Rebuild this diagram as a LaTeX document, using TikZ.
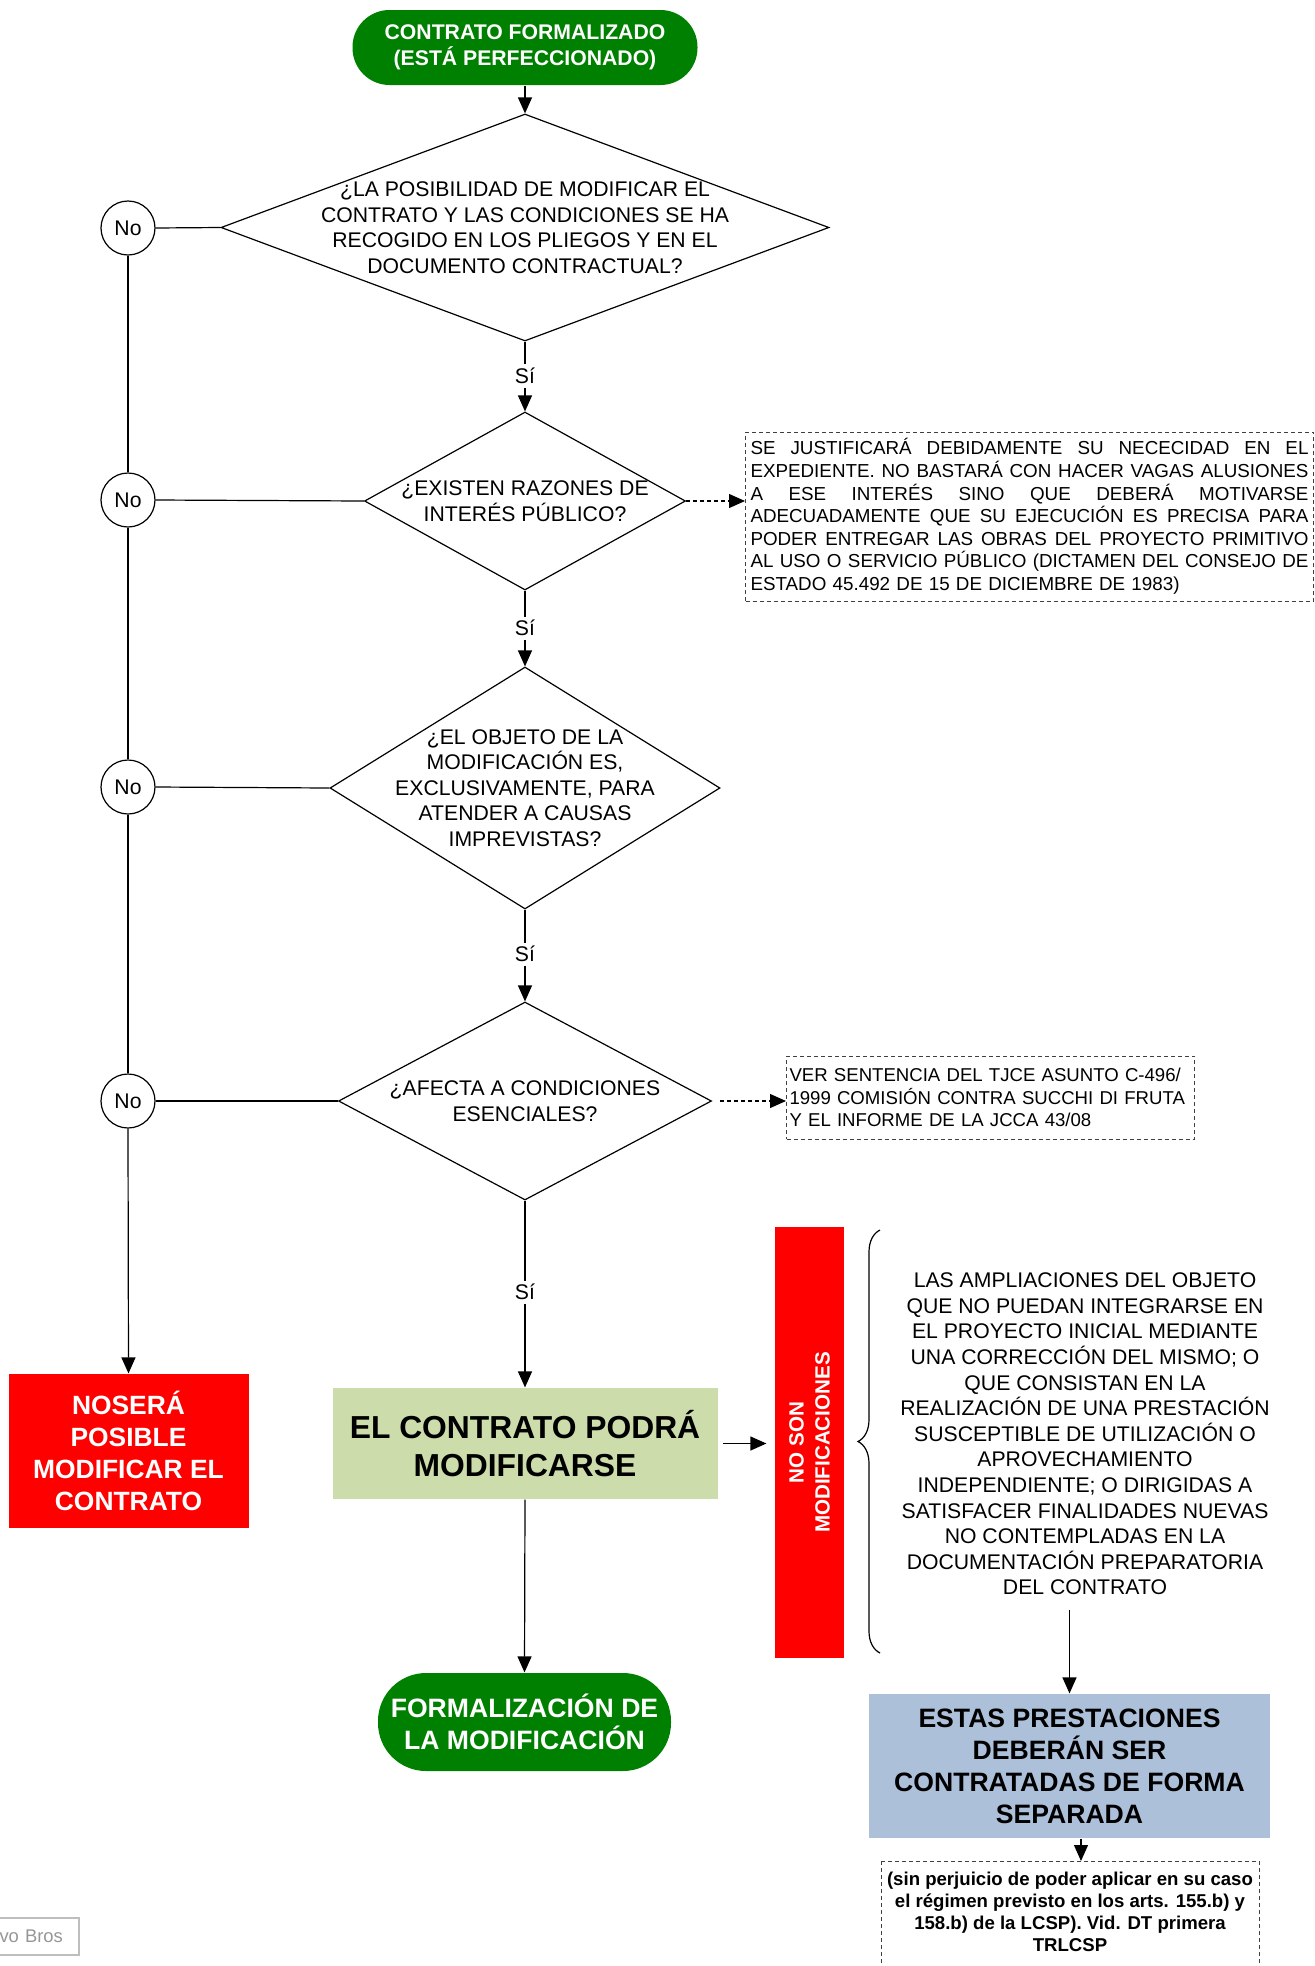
\documentclass[tikz,border=0pt]{standalone}
\usepackage{fontspec}
\setmainfont{Liberation Sans}
\usetikzlibrary{shapes.geometric,arrows.meta,decorations.pathreplacing,calc}
\definecolor{tgreen}{RGB}{0,128,0}
\definecolor{tred}{RGB}{255,0,0}
\definecolor{lgreen}{RGB}{204,220,170}
\definecolor{lblue}{RGB}{173,192,218}
\definecolor{wmgray}{RGB}{150,150,150}
\definecolor{wmline}{RGB}{190,190,190}
\newcommand{\jline}[1]{\makebox[279pt][s]{\spaceskip=0.28em plus 3em\relax #1}}
\begin{document}
\begin{tikzpicture}[x=0.5pt,y=-0.5pt,
  line width=0.6pt,
  arr/.style={-{Triangle[length=8pt,width=7pt]}},
  dia/.style={draw, shape=diamond, inner sep=0pt},
  dtext/.style={align=center, font=\fontsize{10.6}{12.8}\selectfont, inner sep=0pt},
  nocirc/.style={draw, circle, minimum size=27pt, inner sep=0pt, fill=white, font=\fontsize{10.6}{12.8}\selectfont},
  silabel/.style={fill=white, inner sep=1.5pt, font=\fontsize{10.6}{12.8}\selectfont},
  term/.style={fill=tgreen, text=white, align=center, inner sep=0pt},
  dbox/.style={draw=black!75, dash pattern=on 2pt off 1.5pt, line width=0.5pt},
  small/.style={font=\fontsize{9.4}{11.3}\selectfont}
]
\useasboundingbox (0,0) rectangle (1315,1966);

% top terminal
\node[term, rounded corners=18.5pt, minimum width=172.5pt, minimum height=37.5pt,
  font=\fontsize{10.6}{13}\selectfont\bfseries] (t1) at (525,47.5)
  {CONTRATO FORMALIZADO\\(ESTÁ PERFECCIONADO)};

% diamonds
\node[dia, minimum width=304pt, minimum height=113.5pt] (d1) at (525,227.5) {};
\node[dtext] at (d1.center) {¿LA POSIBILIDAD DE MODIFICAR EL\\CONTRATO Y LAS CONDICIONES SE HA\\RECOGIDO EN LOS PLIEGOS Y EN EL\\DOCUMENTO CONTRACTUAL?};

\node[dia, minimum width=160.5pt, minimum height=89pt] (d2) at (525,501) {};
\node[dtext] at (d2.center) {¿EXISTEN RAZONES DE\\INTERÉS PÚBLICO?};

\node[dia, minimum width=195pt, minimum height=121pt] (d3) at (525,788) {};
\node[dtext] at (d3.center) {¿EL OBJETO DE LA\\MODIFICACIÓN ES,\\EXCLUSIVAMENTE, PARA\\ATENDER A CAUSAS\\IMPREVISTAS?};

\node[dia, minimum width=186.5pt, minimum height=99pt] (d4) at (525,1101) {};
\node[dtext] at (d4.center) {¿AFECTA A CONDICIONES\\ESENCIALES?};

% Sí labels
\node[silabel] (si1) at (525,376) {Sí};
\node[silabel] (si2) at (525,628) {Sí};
\node[silabel] (si3) at (525,954) {Sí};
\node[silabel] (si4) at (525,1292) {Sí};

% No circles
\node[nocirc] (no1) at (128,228) {No};
\node[nocirc] (no2) at (128,500) {No};
\node[nocirc] (no3) at (128,787) {No};
\node[nocirc] (no4) at (128,1101) {No};

% red box left
\node[fill=tred, text=white, align=center, minimum width=120pt, minimum height=77pt,
  inner sep=0pt, font=\fontsize{13.2}{16}\selectfont\bfseries] (nos) at (128.5,1451)
  {NOSERÁ\\POSIBLE\\MODIFICAR EL\\CONTRATO};

% green box
\node[fill=lgreen, align=center, minimum width=192.5pt, minimum height=55.5pt,
  inner sep=0pt, font=\fontsize{15.9}{18.8}\selectfont\bfseries] (g) at (525,1443.5)
  {EL CONTRATO PODRÁ\\MODIFICARSE};

% final terminal
\node[term, rounded corners=24pt, minimum width=146.5pt, minimum height=49pt,
  font=\fontsize{13.3}{15.7}\selectfont\bfseries] (t2) at (524.5,1722)
  {FORMALIZACIÓN DE\\LA MODIFICACIÓN};

% vertical red box
\node[fill=tred, minimum width=34.5pt, minimum height=215.5pt, inner sep=0pt] (nsm) at (809.5,1442.5) {};
\node[rotate=90, text=white, align=center, inner sep=0pt,
  font=\fontsize{10.3}{13}\selectfont\bfseries] at (nsm.center) {NO SON\\MODIFICACIONES};

% text block and brace
\node[align=center, inner sep=0pt, font=\fontsize{10.6}{12.8}\selectfont] (txt) at (1085,1434)
  {LAS AMPLIACIONES DEL OBJETO\\QUE NO PUEDAN INTEGRARSE EN\\EL PROYECTO INICIAL MEDIANTE\\UNA CORRECCIÓN DEL MISMO; O\\QUE CONSISTAN EN LA\\REALIZACIÓN DE UNA PRESTACIÓN\\SUSCEPTIBLE DE UTILIZACIÓN O\\APROVECHAMIENTO\\INDEPENDIENTE; O DIRIGIDAS A\\SATISFACER FINALIDADES NUEVAS\\NO CONTEMPLADAS EN LA\\DOCUMENTACIÓN PREPARATORIA\\DEL CONTRATO};
\draw[decorate, decoration={brace, amplitude=11pt}] (880,1653) -- (880,1230);

% blue box
\node[fill=lblue, align=center, minimum width=200.5pt, minimum height=72pt,
  inner sep=0pt, font=\fontsize{13.3}{16}\selectfont\bfseries] (blue) at (1069.5,1766)
  {ESTAS PRESTACIONES\\DEBERÁN SER\\CONTRATADAS DE FORMA\\SEPARADA};

% note 3
\node[align=center, anchor=north, inner xsep=2pt, inner ysep=5pt,
  font=\fontsize{9.3}{11.1}\selectfont\bfseries] (n3) at (1070,1861)
  {(sin perjuicio de poder aplicar en su caso\\el régimen previsto en los arts. 155.b) y\\158.b) de la LCSP). Vid. DT primera\\TRLCSP};
\draw[dbox] (881,1861) rectangle (1259,2010);

% note 1
\node[dbox, small, align=left, text width=279pt, inner xsep=2.5pt, inner ysep=0pt,
  minimum height=84.5pt, anchor=west] (b1) at (745,516.5)
  {\jline{SE JUSTIFICARÁ DEBIDAMENTE SU NECECIDAD EN EL}\\
   \jline{EXPEDIENTE. NO BASTARÁ CON HACER VAGAS ALUSIONES}\\
   \jline{A ESE INTERÉS SINO QUE DEBERÁ MOTIVARSE}\\
   \jline{ADECUADAMENTE QUE SU EJECUCIÓN ES PRECISA PARA}\\
   \jline{PODER ENTREGAR LAS OBRAS DEL PROYECTO PRIMITIVO}\\
   \jline{AL USO O SERVICIO PÚBLICO (DICTAMEN DEL CONSEJO DE}\\
   ESTADO 45.492 DE 15 DE DICIEMBRE DE 1983)};

% note 2
\node[dbox, align=left, text width=201pt, inner xsep=1.5pt, inner ysep=0pt,
  minimum height=41.5pt, anchor=west, font=\fontsize{9.3}{11.3}\selectfont] (b2) at (786,1097.5)
  {\mbox{VER SENTENCIA DEL TJCE ASUNTO C-496/}\\\mbox{1999 COMISIÓN CONTRA SUCCHI DI FRUTA}\\\mbox{Y EL INFORME DE LA JCCA 43/08}};

% watermark
\node[draw=wmline, text=wmgray, anchor=east, text width=40pt, align=right,
  inner xsep=8pt, inner ysep=0pt, minimum height=18.5pt,
  font=\fontsize{9.2}{11}\selectfont] (wm) at (79.5,1936.5) {vo Bros};

% connectors
\draw[arr] (t1.south) -- (d1.north);
\draw (d1.south) -- (si1);
\draw[arr] (si1) -- (d2.north);
\draw (d2.south) -- (si2);
\draw[arr] (si2) -- (d3.north);
\draw (d3.south) -- (si3);
\draw[arr] (si3) -- (d4.north);
\draw (d4.south) -- (si4);
\draw[arr] (si4) -- (g.north);
\draw[arr] (g.south) -- (t2.north);
\draw[arr, shorten <=2.5pt, shorten >=4pt] (g.east) -- (g.east -| nsm.west);

\draw (no1.east) -- (d1.west);
\draw (no2.east) -- (d2.west);
\draw (no3.east) -- (d3.west);
\draw (no4.east) -- (d4.west);
\draw (no1.south) -- (no2.north);
\draw (no2.south) -- (no3.north);
\draw (no3.south) -- (no4.north);
\draw[arr] (no4.south) -- (nos.north);

\draw[arr, dash pattern=on 2pt off 1.5pt] (d2.east) -- (d2.east -| b1.west);
\draw[arr, dash pattern=on 2pt off 1.5pt, shorten <=4pt] (d4.east) -- (d4.east -| b2.west);

\draw[arr] ([yshift=-7pt]txt.south -| blue.north) -- (blue.north);
\draw[arr] ([xshift=5.75pt]blue.south) -- ([xshift=5.75pt]blue.south |- n3.north);
\end{tikzpicture}
\end{document}
